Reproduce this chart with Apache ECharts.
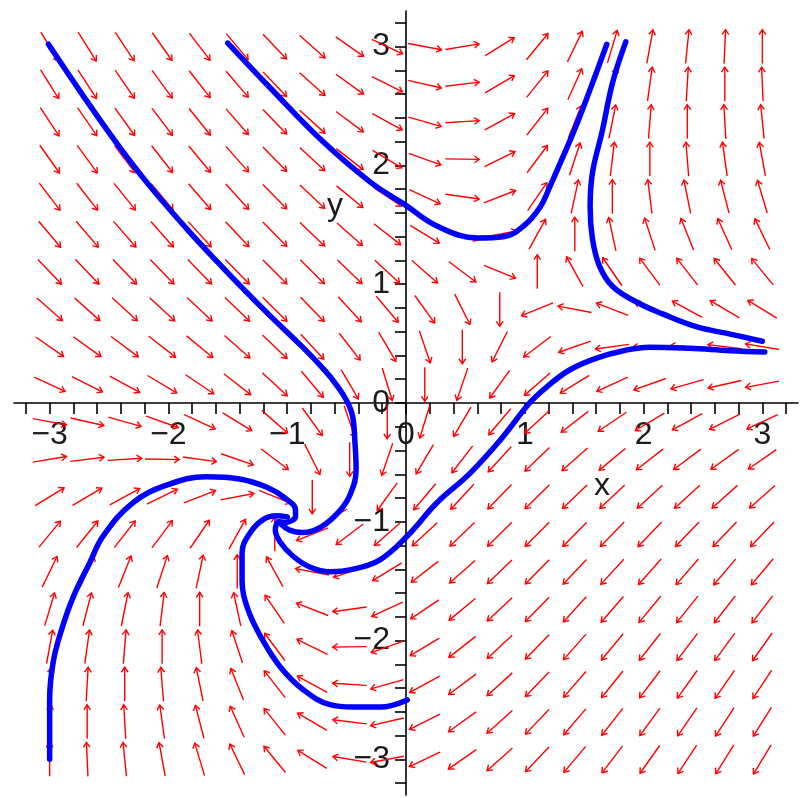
<!DOCTYPE html>
<html>
<head>
<meta charset="utf-8">
<script src="https://cdn.jsdelivr.net/npm/echarts@6/dist/echarts.min.js"></script>
<style>
html,body{margin:0;padding:0;background:#fff;}
#chart{width:802px;height:798px;}
</style>
</head>
<body>
<div id="chart"></div>
<script>
// Grid of direction-field sample points (20 x 20 over [-3, 3])
const xGrid = [-3, -2.684, -2.368, -2.053, -1.737, -1.421, -1.105, -0.789, -0.474, -0.158,
               0.158, 0.474, 0.789, 1.105, 1.421, 1.737, 2.053, 2.368, 2.684, 3];
const yGrid = [-3, -2.684, -2.368, -2.053, -1.737, -1.421, -1.105, -0.789, -0.474, -0.158,
               0.158, 0.474, 0.789, 1.105, 1.421, 1.737, 2.053, 2.368, 2.684, 3];

// The plotted system, as read from the arrows: x' = y - x, y' = x*y - 1
function dxdt(x, y) { return y - x; }
function dydt(x, y) { return x * y - 1; }

// Solution curves
const curveA_x = [-3.01, -2.72, -2.43, -2.16, -1.84, -1.59, -1.36, -1.15, -0.87, -0.68, -0.58, -0.50, -0.45, -0.43, -0.42, -0.47, -0.56, -0.71, -0.87, -0.98, -1.05];
const curveA_y = [3.02, 2.59, 2.18, 1.83, 1.46, 1.19, 0.95, 0.74, 0.47, 0.27, 0.145, 0.02, -0.11, -0.33, -0.56, -0.77, -0.91, -1.04, -1.09, -1.07, -1.02];

const curveB_x = [-3.0, -3.0, -2.97, -2.90, -2.80, -2.66, -2.55, -2.30, -2.01, -1.68, -1.40, -1.17, -1.02, -0.93, -0.93, -0.99];
const curveB_y = [-3.0, -2.50, -2.18, -1.91, -1.63, -1.34, -1.12, -0.84, -0.69, -0.62, -0.64, -0.71, -0.80, -0.90, -0.96, -1.0];

const curveC_x = [3.02, 2.73, 2.39, 2.05, 1.83, 1.61, 1.38, 1.19, 1.04, 0.82, 0.54, 0.26, 0.01, -0.22, -0.45, -0.64, -0.81, -0.95, -1.06, -1.10, -1.07, -1.01];
const curveC_y = [0.43, 0.44, 0.46, 0.47, 0.44, 0.38, 0.28, 0.14, 0.0, -0.28, -0.59, -0.84, -1.12, -1.32, -1.40, -1.42, -1.38, -1.29, -1.17, -1.07, -1.0, -1.01];

const curveD_x = [0.01, -0.22, -0.45, -0.64, -0.87, -1.06, -1.21, -1.33, -1.38, -1.38, -1.31, -1.20, -1.09, -1.0];
const curveD_y = [-2.50, -2.56, -2.56, -2.54, -2.41, -2.22, -1.99, -1.74, -1.49, -1.26, -1.09, -0.98, -0.95, -0.96];

const curveE_x = [-1.50, -1.15, -0.72, -0.30, -0.01, 0.26, 0.60, 0.82, 0.99, 1.13, 1.21, 1.41, 1.55, 1.69];
const curveE_y = [3.03, 2.66, 2.22, 1.86, 1.67, 1.49, 1.39, 1.40, 1.49, 1.65, 1.82, 2.28, 2.64, 3.02];

const curveF_x = [1.85, 1.74, 1.65, 1.57, 1.55, 1.57, 1.63, 1.74, 1.94, 2.16, 2.45, 2.73, 3.0];
const curveF_y = [3.04, 2.70, 2.28, 1.94, 1.65, 1.38, 1.15, 0.98, 0.85, 0.75, 0.64, 0.58, 0.52];

// Axis ticks and labels
const tickValues = [-3.2, -3.0, -2.8, -2.6, -2.4, -2.2, -2.0, -1.8, -1.6, -1.4, -1.2, -1.0, -0.8, -0.6, -0.4, -0.2,
                    0, 0.2, 0.4, 0.6, 0.8, 1.0, 1.2, 1.4, 1.6, 1.8, 2.0, 2.2, 2.4, 2.6, 2.8, 3.0, 3.2];
const labelValues = [-3, -2, -1, 0, 1, 2, 3];
const xName = 'x';
const yName = 'y';

const fieldData = [];
for (const yv of yGrid) for (const xv of xGrid) fieldData.push([xv, yv, dxdt(xv, yv), dydt(xv, yv)]);

function zip(xs, ys) { return xs.map((v, i) => [v, ys[i]]); }
const curves = [zip(curveA_x, curveA_y), zip(curveB_x, curveB_y), zip(curveC_x, curveC_y),
                zip(curveD_x, curveD_y), zip(curveE_x, curveE_y), zip(curveF_x, curveF_y)];

const ARROW_LEN = 34, HEAD = 6, HEAD_ANG = 0.6;
function renderArrow(params, api) {
  const x = api.value(0), y = api.value(1), u = api.value(2), v = api.value(3);
  const c = api.coord([x, y]);
  const mag = Math.hypot(u, v) || 1;
  const eps = 0.01;
  const c2 = api.coord([x + u / mag * eps, y + v / mag * eps]);
  let dx = c2[0] - c[0], dy = c2[1] - c[1];
  const d = Math.hypot(dx, dy) || 1; dx /= d; dy /= d;
  const h = ARROW_LEN / 2;
  const tail = [c[0] - dx * h, c[1] - dy * h];
  const tip = [c[0] + dx * h, c[1] + dy * h];
  const back = Math.atan2(-dy, -dx);
  const b1 = [tip[0] + HEAD * Math.cos(back + HEAD_ANG), tip[1] + HEAD * Math.sin(back + HEAD_ANG)];
  const b2 = [tip[0] + HEAD * Math.cos(back - HEAD_ANG), tip[1] + HEAD * Math.sin(back - HEAD_ANG)];
  const st = { stroke: '#ff0000', lineWidth: 1.4, fill: null };
  return { type: 'group', children: [
    { type: 'line', shape: { x1: tail[0], y1: tail[1], x2: tip[0], y2: tip[1] }, style: st },
    { type: 'polyline', shape: { points: [b1, tip, b2] }, style: st }
  ]};
}

const fmt = v => (v < 0 ? '\u2212' + Math.abs(v) : String(v));
function makeAxis(pos, off) {
  return {
    type: 'value', min: -3.3, max: 3.3, position: pos, offset: off,
    axisLine: { show: true, onZero: false, lineStyle: { color: '#000', width: 1.6 } },
    axisTick: { show: true, length: 11, customValues: tickValues, lineStyle: { color: '#000', width: 1.6 } },
    axisLabel: { customValues: labelValues, formatter: fmt, margin: 16, fontSize: 32,
                 fontFamily: 'Liberation Sans', color: '#1a1a1a', hideOverlap: false },
    splitLine: { show: false }
  };
}

const chart = echarts.init(document.getElementById('chart'), null, { renderer: 'canvas' });
const series = [{
  type: 'custom', renderItem: renderArrow, data: fieldData, z: 2, silent: true, clip: false
}];
curves.forEach(c => series.push({
  type: 'line', data: c, smooth: 0.4, showSymbol: false, symbol: 'none', z: 3, silent: true, clip: false,
  lineStyle: { color: '#0000ff', width: 5.5, cap: 'round', join: 'round' }
}));

chart.setOption({
  animation: false,
  backgroundColor: '#fff',
  grid: { left: 14, top: 11, width: 784, height: 784, containLabel: false, outerBoundsMode: 'none' },
  xAxis: makeAxis('bottom', -392),
  yAxis: makeAxis('left', -392),
  series: series,
  graphic: [
    { type: 'text', left: 594, top: 470, style: { text: xName, fontSize: 32, fontFamily: 'Liberation Sans', fill: '#1a1a1a' } },
    { type: 'text', left: 327, top: 190, style: { text: yName, fontSize: 32, fontFamily: 'Liberation Sans', fill: '#1a1a1a' } }
  ]
});
</script>
</body>
</html>
